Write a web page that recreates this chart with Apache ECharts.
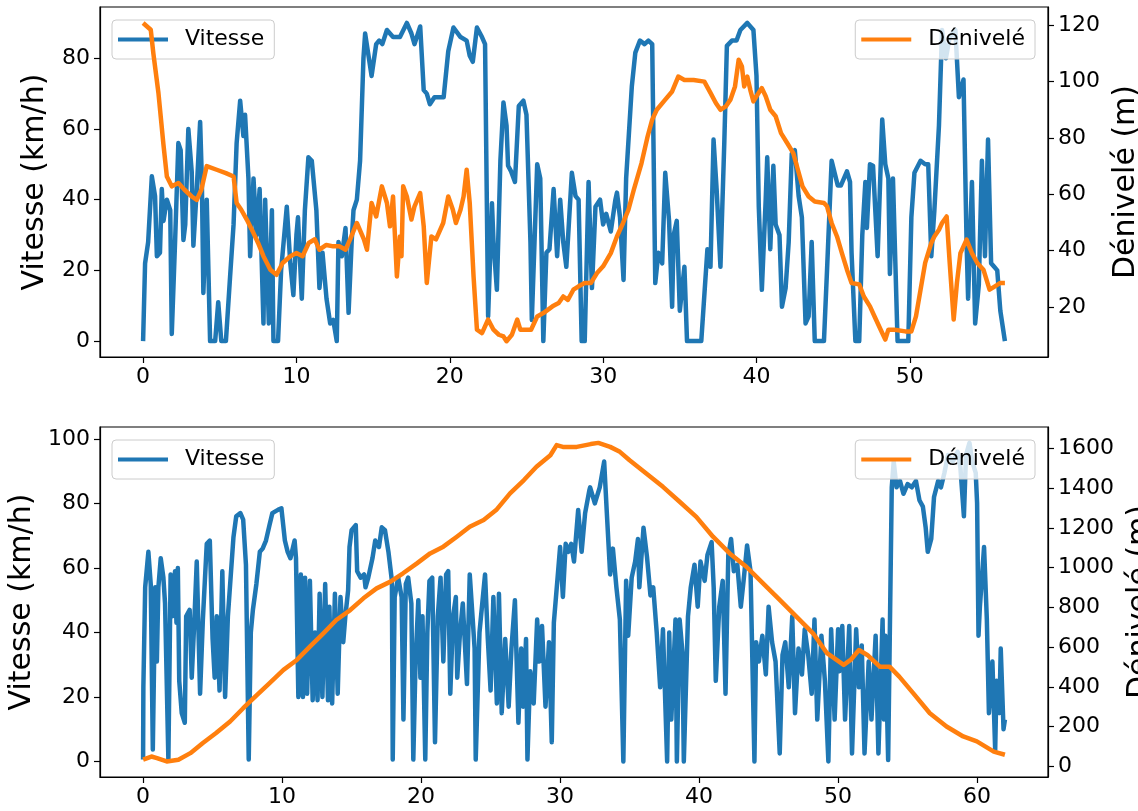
<!DOCTYPE html>
<html>
<head>
<meta charset="utf-8">
<script src="https://cdn.jsdelivr.net/npm/echarts@6/dist/echarts.min.js"></script>
<style>
html,body{margin:0;padding:0;background:#fff;}
#chart{width:1138px;height:811px;}
</style>
</head>
<body>
<div id="chart"></div>
<script>
// ---------- Data ----------
// Top ride: time axis values and speeds (km/h)
const speed1X = [0,0.13,0.33,0.57,0.78,0.9,1.1,1.22,1.33,1.55,1.77,1.87,2.09,2.3,2.45,2.63,2.75,2.95,3.17,3.28,3.5,3.72,3.83,3.93,4.15,4.37,4.7,4.9,5.1,5.4,5.67,5.9,6.1,6.33,6.54,6.65,6.87,6.98,7.2,7.4,7.6,7.85,7.96,8.2,8.4,8.5,8.8,9.0,9.37,9.6,9.8,10.0,10.1,10.35,10.55,10.78,11.0,11.3,11.5,11.7,11.96,12.2,12.4,12.63,12.74,12.96,13.2,13.4,13.6,13.72,13.94,14.15,14.37,14.48,14.6,14.9,15.2,15.4,15.6,15.9,16.3,16.75,17.2,17.5,17.7,18.07,18.3,18.5,18.7,19.0,19.6,19.9,20.24,20.7,21.1,21.3,21.5,21.77,22.1,22.3,22.5,22.75,22.85,23.07,23.3,23.5,23.7,23.8,24.0,24.25,24.5,24.8,25.0,25.26,25.35,25.7,25.9,26.1,26.3,26.5,26.77,27.0,27.2,27.4,27.6,27.96,28.2,28.4,28.6,28.8,29.05,29.27,29.5,29.8,30.0,30.2,30.5,30.8,30.9,31.1,31.33,31.5,31.87,32.1,32.4,32.7,32.95,33.2,33.4,33.6,33.85,34.05,34.3,34.5,34.6,34.8,35.0,35.3,35.47,36.4,36.8,37.0,37.2,37.4,37.65,37.9,38.07,38.4,38.7,38.95,39.4,39.8,40.0,40.15,40.35,40.6,40.7,40.9,41.1,41.25,41.5,41.66,41.9,42.1,42.3,42.5,42.75,42.96,43.2,43.4,43.6,43.8,44.4,44.6,44.9,45.3,45.5,45.9,46.1,46.2,46.45,46.7,46.9,47.1,47.2,47.4,47.6,47.9,48.2,48.4,48.6,48.7,48.9,49.2,49.9,50.1,50.3,50.7,51.0,51.2,51.4,51.6,51.9,52.1,52.35,52.6,52.97,53.2,53.5,53.7,53.8,54.05,54.26,54.5,54.7,54.9,55.1,55.3,55.5,55.7,55.9,56.2];
const speed1 = [0,22,28,46.6,41,24,25,43,34,40,37,2,28.6,56,54,28.6,33,60,48,27,43,62,46,13.6,40,0,0,11,0,0,18,33,56,68,58,64,46,24,46,30,43,5,40,5,37,0,0,20,38,22,13,30,35,12,37,52,51,37,15,25,12,5,6,0,28,24,32,8,28,37,40,51,80,87,87,75,84,85,84,88,86,86,90,87,84,89,71,70,67,69,69,82,88.7,86,85,80.7,79,88.7,86,84,7,39,28,14.5,51,67.5,61,49.6,48,45,66.5,68,64,28,6,50,46,0,25,26,43,24,40,28,21,47.6,41,40,0,0,45,15,38,40,33,36,31,40,42,35,17.3,46,72,81.6,85,84,85,84,16.4,25,22,47.6,34,9.7,30,34,8.6,21,0,0,26,21,57,43,21,56,83.5,85,85,88,90,88,75,38,14.5,40,52,26,49.6,33,30,9.7,15,28,53,54,41,35,5,7,28,0,0,20,51,44,44,48,45,25,0,0,30,45,32,50,49.6,24,62.7,50,46,19,46,0,0,35,47.6,51,50,50,24,37,61,88,80,86,88,69,74,28,12,45,5,16,51,24,57,22,21,20,8.6,0];
// Top ride: elevation (m)
const elev1X = [0,0.5,0.67,1.0,1.32,1.55,1.87,2.3,2.7,3.17,3.5,3.8,4.15,4.8,5.4,5.9,6.1,6.4,6.76,7.2,7.5,7.85,8.3,8.7,9.1,9.6,10.0,10.4,10.8,11.2,11.5,11.95,12.4,12.8,13.2,13.5,13.94,14.4,14.6,14.9,15.2,15.57,15.9,16.1,16.3,16.55,16.75,16.85,16.96,17.2,17.5,17.7,18.07,18.3,18.5,18.8,19.1,19.57,19.9,20.2,20.4,20.7,20.9,21.1,21.3,21.55,21.77,22.1,22.5,22.85,23.2,23.5,23.7,24.05,24.4,24.6,24.9,25.3,25.7,26.1,26.7,27.1,27.4,27.7,28.06,28.4,28.8,29.2,29.6,30.0,30.5,30.9,31.3,31.65,32.0,32.5,32.9,33.2,33.5,34.05,34.5,34.9,35.3,35.9,36.6,37.0,37.35,37.65,38.0,38.3,38.6,38.84,39.05,39.2,39.4,39.6,39.8,40.0,40.35,40.6,40.9,41.25,41.6,42.0,42.4,42.7,43.0,43.4,43.8,44.4,44.6,44.9,45.25,45.57,45.9,46.2,46.7,47.0,47.4,47.7,48.1,48.4,48.6,49.0,49.7,50.1,50.4,50.7,51.0,51.4,51.6,51.9,52.1,52.4,52.6,52.86,53.07,53.3,53.7,54.05,54.4,54.8,55.2,55.55,55.9,56.2];
const elev1 = [120.8,118.4,110,96,78,66.3,62.8,64,61.6,59.2,58,61.6,70,68.7,67.5,66.3,56.9,54.5,51,46.2,42.7,38,33.2,31.4,35.6,38,39.1,38,42.7,44,40.3,42,41.5,41.5,40.3,44,49.8,44,40.3,56.9,52.1,62.8,56.9,48.6,59.2,30.8,45,38,62.8,59.2,51,55.7,60.4,48.6,28.5,45,44,49.8,59.2,54.5,49.8,54.5,59.2,68.7,56.9,30.8,11.9,10.7,15.5,11.9,10.1,9.5,7.8,10.1,15.5,11.9,11.9,11.9,16.6,17.8,20.2,21.4,23.7,22.5,26.1,27.3,28.5,28.5,32,34.4,39.1,45,49.8,54.5,61.6,71,80.5,86.5,90,93.6,96.5,101.8,100.6,100.6,100,96,92.4,90,91.2,93.6,98.3,107.8,105.4,98.3,101.8,97,93,94.8,97.7,94.8,90,87.7,81.7,78.2,74.6,68.7,62.8,59.2,57.4,56.9,55.7,49.8,45,39.1,33.2,28.5,28,23.7,20.2,16.6,11.9,8.4,11.9,11.9,11.3,11.3,16.6,26.1,35.6,42.7,45,47.4,49.8,52.1,35.6,15.5,28.5,39.1,43.9,39.1,35.6,33.2,26.1,27.3,28.5,28.5];

// Bottom ride: speeds (km/h)
const speed2X = [0,0.02,0.15,0.38,0.55,0.7,0.87,0.99,1.1,1.27,1.46,1.58,1.82,1.98,2.1,2.3,2.4,2.5,2.6,2.78,3.0,3.1,3.35,3.5,3.7,3.86,4.1,4.3,4.58,4.8,5.0,5.15,5.3,5.5,5.7,5.9,6.1,6.5,6.7,7.0,7.2,7.4,7.6,7.75,7.9,8.15,8.4,8.6,8.84,9.1,9.3,9.7,9.95,10.2,10.4,10.6,10.9,11.0,11.17,11.35,11.5,11.65,11.8,12.0,12.2,12.37,12.55,12.7,12.9,13.1,13.3,13.4,13.6,13.8,14.0,14.2,14.4,14.55,14.75,14.85,15.0,15.3,15.4,15.65,15.9,16.0,16.2,16.5,16.7,16.97,17.17,17.4,17.65,17.9,17.96,18.1,18.35,18.6,18.73,18.9,19.07,19.3,19.44,19.6,19.8,19.95,20.1,20.3,20.45,20.6,20.8,21.0,21.2,21.4,21.6,21.8,21.95,22.1,22.3,22.5,22.6,22.8,23.0,23.3,23.5,23.7,23.85,23.93,24.2,24.4,24.6,24.8,25.0,25.2,25.45,25.6,25.8,26.05,26.3,26.5,26.75,27.0,27.2,27.35,27.55,27.65,27.85,28.1,28.35,28.5,28.7,28.95,29.2,29.4,29.55,29.8,30.0,30.2,30.4,30.6,30.8,31.0,31.3,31.55,31.8,32.1,32.16,32.5,32.85,33.17,33.35,33.6,33.8,34.05,34.3,34.55,34.75,34.9,35.15,35.4,35.6,35.7,36.0,36.25,36.5,36.7,36.95,37.2,37.4,37.7,37.85,38.0,38.3,38.4,38.6,38.8,38.9,39.2,39.4,39.67,39.9,40.1,40.4,40.6,40.9,41.05,41.2,41.45,41.7,41.9,42.1,42.3,42.5,42.75,43.0,43.2,43.45,43.7,43.98,44.1,44.3,44.55,44.8,45.0,45.25,45.5,45.8,46.0,46.2,46.45,46.7,46.9,47.15,47.4,47.6,47.85,48.1,48.3,48.5,48.8,49.05,49.3,49.5,49.75,50.0,50.1,50.3,50.5,50.8,51.0,51.3,51.5,51.7,51.9,52.2,52.4,52.7,52.9,53.2,53.3,53.4,53.6,53.7,53.86,54.0,54.2,54.45,54.7,55.0,55.3,55.6,55.85,56.1,56.3,56.45,56.7,56.9,57.2,57.4,57.65,57.9,58.25,58.6,58.8,59.05,59.2,59.45,59.65,59.9,60.0,60.1,60.2,60.5,60.7,60.85,61.1,61.3,61.4,61.6,61.7,61.9,62.0];
const speed2 = [0.6,23,54,65,55,3.7,54,31,54,63,57,49,0.6,58,45,59,43,60,25,15,12,45,47,26,45,62,21,44,67.5,68.5,38,26,45,22,59,20,45,69.5,76,77,75,61,0.6,40,47,55,65,66,68.5,73.4,77,78,78.5,68.5,65,63,68.5,63,20,58,20,57,21,56,19,40,19,52,20,55,19,48,18,52,21,51,37,45,53,66.5,71.7,73.3,59,57,58,54,57,63,68.5,66.5,72.6,71.7,65,56,0.6,51,57,51,13,55,57,49,0.6,31,50,26,45,0.6,40,56,57,6,45,57,31,58,59,21,45,51,26,40,49,24,58,45,35,0.6,40,49,58,38,22,51,18,52,15,38,17,35,50,12,35,17,38,0.6,28,18,44,31,42,17,37,6,43,56,66.5,51,67.5,65,67.5,62,78,65,77,84,85,80,85,93,78,58,66,54,44,0,56,39,57,62,69,54,72.5,63.5,51.5,54,40,23,41,0,40,13,44,0,44,34,0,45,54,61,48,62,56,64,68,54,25,48,56,21,64,69,59,61,48,56,67,59,0,37,31,39,27,48,37,31,2.5,33,37,23,45,15,35,27,41,33,21,44,13,39,25,0,41,13,41,28,42,13,42,2.5,41,23,36,2.5,31,13,39,2.5,44,13,39,0.5,33,85,93,85,87,83,86,85,87,81,79,72.5,65,69,82,87,85,89.5,95,93,96,91,76,95,98.8,93,89.5,80,39,48,66.5,44,15,31,3.5,25,15,35,10,13];
// Bottom ride: elevation (m)
const elev2X = [0,0.6,1.0,1.7,2.54,3.4,4.3,5.25,6.26,7.2,8.2,9.1,10.1,11.06,12.0,12.97,13.9,14.9,15.85,16.8,17.8,18.7,19.7,20.65,21.6,22.57,23.5,24.5,25.4,26.4,27.4,28.3,29.3,29.75,30.2,31.2,32.2,32.75,33.6,34.3,35.0,36.2,37.4,38.6,39.8,41.0,42.2,43.4,44.6,45.8,47.0,48.2,49.2,50.4,50.9,51.5,52.1,53.0,53.7,54.4,55.4,56.6,57.8,59.0,59.98,61.2,62.0];
const elev2 = [34,50,42,25,34,67,118,168,226,293,360,419,486,536,603,670,737,787,846,896,930,972,1022,1072,1106,1156,1206,1240,1290,1374,1441,1508,1566,1617,1608,1608,1622,1628,1608,1583,1541,1474,1407,1332,1256,1156,1072,1005,921,838,754,670,570,511,536,586,561,502,502,452,369,268,201,151,126,75,59];

// Tick labels
const xTicksTop = [0,10,20,30,40,50];
const xTicksBottom = [0,10,20,30,40,50,60];
const speedTicksTop = [0,20,40,60,80];
const elevTicksTop = [20,40,60,80,100,120];
const speedTicksBottom = [0,20,40,60,80,100];
const elevTicksBottom = [0,200,400,600,800,1000,1200,1400,1600];

const seriesNames = ['Vitesse','Dénivelé'];
const axisTitles = ['Vitesse (km/h)','Dénivelé (m)'];

// ---------- Chart ----------
const BLUE = '#1f77b4', ORANGE = '#ff7f0e';
const FONT = 'DejaVu Sans';
function pairs(xs, ys){ return xs.map((x,i)=>[x, ys[i]]); }
const plain = v => String(v);

function xAxis(gridIndex, min, max, ticks){
  return {
    type:'value', gridIndex, min, max,
    axisLine:{show:true, onZero:false, lineStyle:{color:'#000', width:1.2}},
    axisTick:{show:true, customValues:ticks, length:6, lineStyle:{color:'#000', width:1.2}},
    axisLabel:{customValues:ticks, formatter:plain, fontSize:22, fontFamily:FONT, color:'#000', margin:9},
    splitLine:{show:false}
  };
}
function yAxis(gridIndex, pos, min, max, ticks, name, gap){
  return {
    type:'value', gridIndex, position:pos, min, max,
    name, nameLocation:'middle', nameGap:gap,
    nameTextStyle:{fontSize:30, fontFamily:FONT, color:'#000'},
    axisLine:{show:true, onZero:false, lineStyle:{color:'#000', width:1.2}},
    axisTick:{show:true, customValues:ticks, length:6, lineStyle:{color:'#000', width:1.2}},
    axisLabel:{customValues:ticks, formatter:plain, fontSize:22, fontFamily:FONT, color:'#000', margin:10},
    splitLine:{show:false}
  };
}
function legend(name, pos, top, z){
  const l = {
    data:[name], top, z,
    orient:'horizontal',
    itemWidth:50, itemHeight:4, icon:'rect',
    padding:[7,10,7,6],
    backgroundColor:'rgba(255,255,255,0.8)',
    borderColor:'#cccccc', borderWidth:1, borderRadius:4,
    textStyle:{fontSize:22, fontFamily:FONT, color:'#000', lineHeight:25, padding:[0,0,0,12]},
    selectedMode:false
  };
  Object.assign(l, pos);
  return l;
}

const chart = echarts.init(document.getElementById('chart'), null, {renderer:'canvas'});
chart.setOption({
  animation:false,
  backgroundColor:'#fff',
  grid:[
    {left:100, top:7, width:948, height:350, show:true, borderColor:'#000', borderWidth:1.2, backgroundColor:'transparent', containLabel:false, outerBoundsMode:'none'},
    {left:100, top:427, width:948, height:350, show:true, borderColor:'#000', borderWidth:1.2, backgroundColor:'transparent', containLabel:false, outerBoundsMode:'none'}
  ],
  xAxis:[
    xAxis(0, -2.81, 59.01, xTicksTop),
    xAxis(1, -3.1, 65.1, xTicksBottom)
  ],
  yAxis:[
    yAxis(0, 'left', -4.5, 94.5, speedTicksTop, axisTitles[0], 50),
    yAxis(0, 'right', 2.2, 126.5, elevTicksTop, axisTitles[1], 50),
    yAxis(1, 'left', -4.8, 103.7, speedTicksBottom, axisTitles[0], 60),
    yAxis(1, 'right', -53, 1708, elevTicksBottom, axisTitles[1], 74)
  ],
  legend:[
    legend(seriesNames[0], {left:112}, 20, 2),
    legend(seriesNames[1], {right:103}, 20, 4),
    legend(seriesNames[0], {left:112}, 440, 2),
    legend(seriesNames[1], {right:103}, 440, 4)
  ],
  series:[
    {name:seriesNames[0], type:'line', xAxisIndex:0, yAxisIndex:0, data:pairs(speed1X, speed1), showSymbol:false, z:1, color:BLUE, lineStyle:{color:BLUE, width:4.5, join:'round'}},
    {name:seriesNames[1], type:'line', xAxisIndex:0, yAxisIndex:1, data:pairs(elev1X, elev1), showSymbol:false, z:3, color:ORANGE, lineStyle:{color:ORANGE, width:4.5, join:'round'}},
    {name:seriesNames[0], type:'line', xAxisIndex:1, yAxisIndex:2, data:pairs(speed2X, speed2), showSymbol:false, z:1, color:BLUE, lineStyle:{color:BLUE, width:4.5, join:'round'}},
    {name:seriesNames[1], type:'line', xAxisIndex:1, yAxisIndex:3, data:pairs(elev2X, elev2), showSymbol:false, z:3, color:ORANGE, lineStyle:{color:ORANGE, width:4.5, join:'round'}}
  ]
});
</script>
</body>
</html>
